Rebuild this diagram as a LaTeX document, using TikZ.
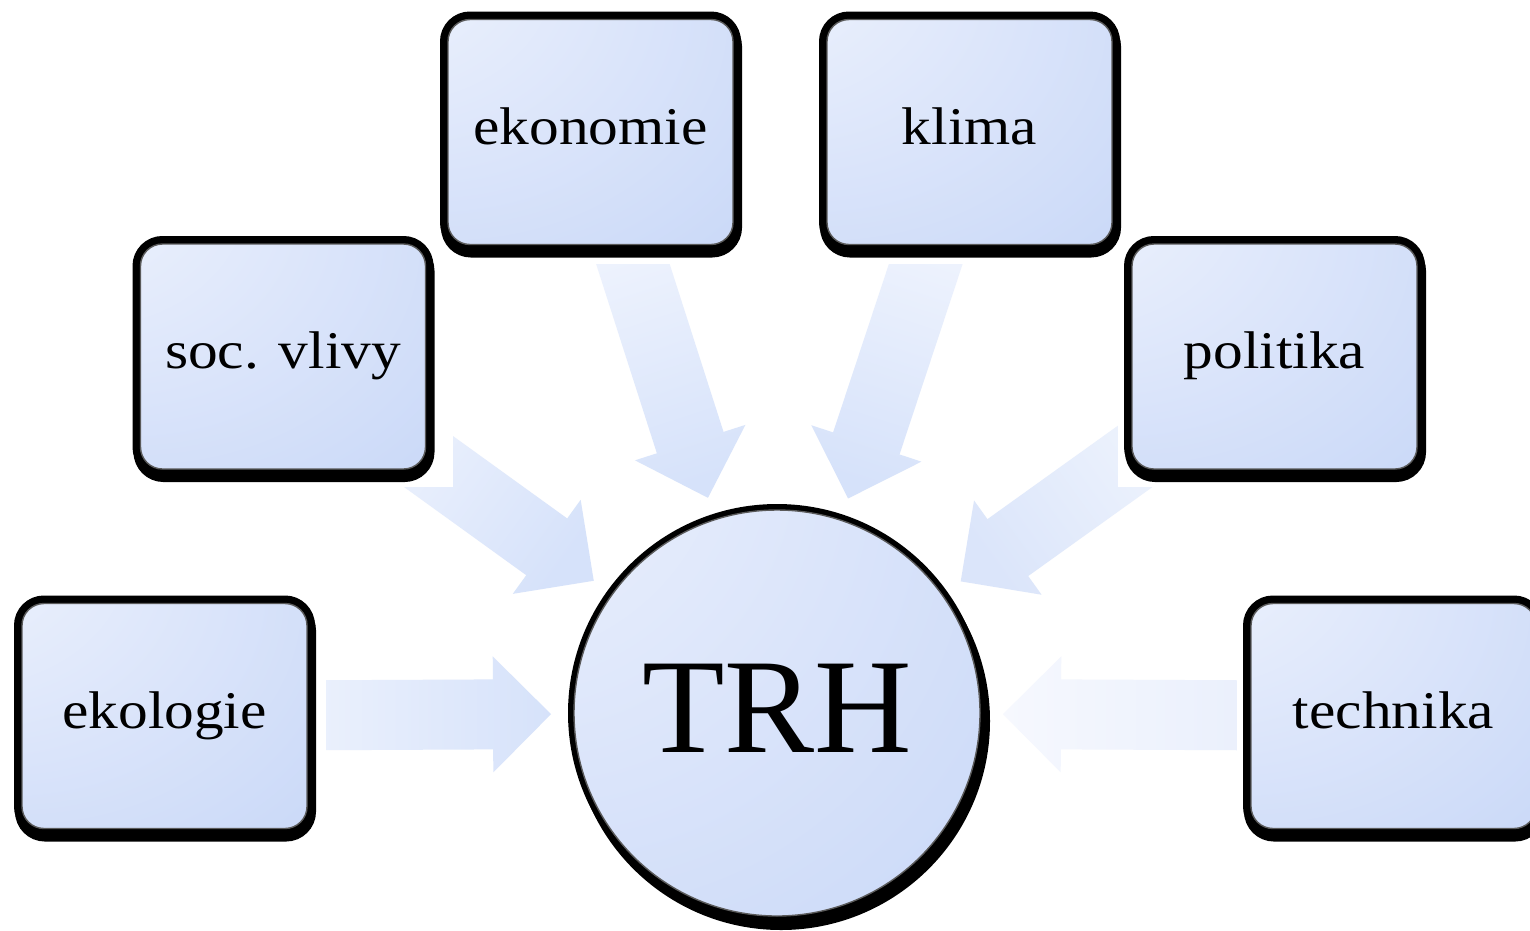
\documentclass[tikz,border=0pt]{standalone}
\usepackage{fontspec}
\usetikzlibrary{calc}
\newfontfamily\boxfont[FakeStretch=1.12]{Liberation Serif}
\newfontfamily\trhfont{Liberation Serif}
\definecolor{shA}{HTML}{F3F6FE}
\definecolor{shA2}{HTML}{E9EFFC}
\definecolor{shB}{HTML}{DAE4FA}
\definecolor{shC}{HTML}{C3D4F7}
\definecolor{shD}{HTML}{B4C8F4}
\definecolor{shE}{HTML}{AEC4F3}
\definecolor{boxline}{HTML}{5A5A5A}
\definecolor{arrHead}{HTML}{D6E2FA}
\definecolor{arrTail}{HTML}{EDF2FD}
\definecolor{arrPaleHead}{HTML}{F6F8FE}
\definecolor{arrPaleTail}{HTML}{E9EFFC}
\definecolor{arrPolHead}{HTML}{DBE5FA}
\definecolor{arrPolTail}{HTML}{EFF4FD}
\pgfdeclareradialshading{boxshade}{\pgfpoint{-50bp}{50bp}}{color(0bp)=(shA); color(18bp)=(shA2); color(40bp)=(shB); color(73bp)=(shC); color(85bp)=(shD); color(100bp)=(shE)}
\pgfdeclarelayer{paper}
\pgfdeclarelayer{arrowlayer}
\pgfdeclarelayer{masklayer}
\pgfsetlayers{paper,arrowlayer,masklayer,main}
\tikzset{
  infobox/.style={rectangle, rounded corners=22pt, minimum width=285pt, minimum height=225pt,
    inner sep=0pt, shading=boxshade, draw=boxline, line width=1.4pt,
    font=\boxfont\fontsize{53}{60}\selectfont, text height=24pt, text depth=0pt,
    preaction={fill=black, draw=black, line width=16pt, transform canvas={xshift=1pt, yshift=-5pt}},
    preaction={draw=black, line width=16pt}},
  hub/.style={circle, minimum size=406pt, inner sep=0pt, shading=boxshade, draw=boxline, line width=1.4pt,
    font=\trhfont\fontsize{135}{140}\selectfont, text height=78pt, text depth=0pt,
    preaction={fill=black, draw=black, line width=12pt, transform canvas={xshift=4pt, yshift=-8pt}},
    preaction={draw=black, line width=12pt}},
  mask/.style={fill=white}
}
\newcommand\blockarrow[2]{%
  \coordinate (#1-tip) at ($(trh.center)!226pt!(#1.center)$);
  \coordinate (#1-hb) at ($(trh.center)!284pt!(#1.center)$);
  \coordinate (#1-tl) at ($(trh.center)!490pt!(#1.center)$);
  \path[#2] (#1-tip)
    -- ($(#1-hb)!58pt!90:(trh.center)$)
    -- ($(#1-hb)!35pt!90:(trh.center)$)
    -- ($(#1-tl)!35pt!90:(trh.center)$)
    -- ($(#1-tl)!35pt!-90:(trh.center)$)
    -- ($(#1-hb)!35pt!-90:(trh.center)$)
    -- ($(#1-hb)!58pt!-90:(trh.center)$)
    -- cycle;}
\begin{document}
\begin{tikzpicture}[x=1pt, y=-1pt]
\begin{pgfonlayer}{paper}
  \fill[white] (0,0) rectangle (1530,930);
\end{pgfonlayer}
\useasboundingbox (0,0) rectangle (1530,930);

\node[hub] (trh) at (777,713) {TRH};
\node[infobox] (ekologie) at (164.5,716) {ekologie};
\node[infobox] (soc) at (283,356.5) {soc. vlivy};
\node[infobox] (ekonomie) at (590.5,132) {ekonomie};
\node[infobox] (klima) at (969.5,132) {klima};
\node[infobox] (politika) at (1274.5,356.5) {politika};
\node[infobox] (technika) at (1393.5,716) {technika};

\begin{pgfonlayer}{arrowlayer}
  \blockarrow{ekologie}{top color=arrHead, bottom color=arrTail, shading angle=-90}
  \blockarrow{technika}{top color=arrPaleHead, bottom color=arrPaleTail, shading angle=90}
  \blockarrow{soc}{top color=arrHead, bottom color=arrTail, shading angle=-126}
  \blockarrow{ekonomie}{top color=arrHead, bottom color=arrTail, shading angle=-162}
  \blockarrow{klima}{top color=arrHead, bottom color=arrTail, shading angle=162}
  \blockarrow{politika}{top color=arrPolHead, bottom color=arrPolTail, shading angle=126}
\end{pgfonlayer}

\begin{pgfonlayer}{masklayer}
  \fill[mask] (0,585) rectangle (326,850);
  \fill[mask] (120,225) rectangle (453,487);
  \fill[mask] (422,0) rectangle (760,264);
  \fill[mask] (800,0) rectangle (1140,264);
  \fill[mask] (1118,225) rectangle (1530,487);
  \fill[mask] (1237,585) rectangle (1530,850);
\end{pgfonlayer}
\end{tikzpicture}
\end{document}
